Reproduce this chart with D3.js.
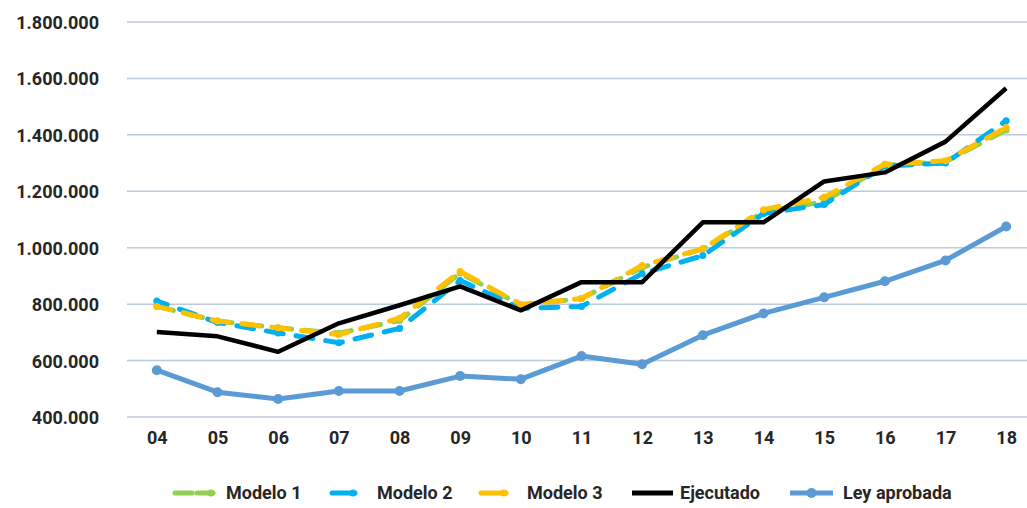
<!DOCTYPE html>
<html>
<head>
<meta charset="utf-8">
<script src="https://cdn.jsdelivr.net/npm/d3@7"></script>
<style>
  html, body { margin: 0; padding: 0; background: #fff; }
  svg { display: block; font-family: Roboto, "Noto Sans", sans-serif; }
</style>
</head>
<body>
<svg id="chart" width="1027" height="508"></svg>
<script>
// Years (two-digit labels) and series values
const years = ["04","05","06","07","08","09","10","11","12","13","14","15","16","17","18"];
const modelo1 = [792000, 740000, 716000, 697000, 742000, 910000, 797000, 820000, 930000, 996000, 1127000, 1163000, 1292000, 1305000, 1417000];
const modelo2 = [811000, 735000, 698000, 663000, 714000, 884000, 785000, 792000, 908000, 972000, 1121000, 1153000, 1290000, 1300000, 1450000];
const modelo3 = [792000, 740000, 716000, 692000, 750000, 916000, 799000, 820000, 937000, 996000, 1135000, 1179000, 1296000, 1308000, 1426000];
const ejecutado = [701000, 686000, 631000, 732000, 796000, 863000, 778000, 878000, 878000, 1090000, 1090000, 1235000, 1267000, 1376000, 1565000];
const leyAprobada = [566000, 488000, 464000, 492000, 492000, 545000, 534000, 616000, 587000, 690000, 767000, 824000, 881000, 955000, 1075000];
const yTicks = [400000, 600000, 800000, 1000000, 1200000, 1400000, 1600000, 1800000];

const series = [
  { name: "Modelo 1", values: modelo1, color: "#92d050", dashed: true, marker: 3.5, offset: 0 },
  { name: "Modelo 2", values: modelo2, color: "#00b0f0", dashed: true, marker: 3.5, offset: 6 },
  { name: "Modelo 3", values: modelo3, color: "#ffc000", dashed: true, marker: 3.5, offset: 3 },
  { name: "Ejecutado", values: ejecutado, color: "#000000", dashed: false, marker: 0 },
  { name: "Ley aprobada", values: leyAprobada, color: "#5b9bd5", dashed: false, marker: 5 }
];

const W = 1027, H = 508;
const svg = d3.select("#chart");

const x = d3.scalePoint().domain(years).range([126.5, 1036.5]).padding(0.5);
const y = d3.scaleLinear().domain([400000, 1800000]).range([417, 22]);

const fmt = v => d3.format(",")(v).replace(/,/g, ".");
const textColor = "#262626";

// Horizontal gridlines
svg.append("g").selectAll("line").data(yTicks).join("line")
  .attr("x1", 127).attr("x2", W)
  .attr("y1", d => y(d)).attr("y2", d => y(d))
  .attr("stroke", "#bccbd9").attr("stroke-width", 1.5);

// Y axis labels
const yAxis = d3.axisLeft(y).tickValues(yTicks).tickFormat(fmt).tickSize(0).tickPadding(0);
svg.append("g").attr("transform", "translate(99,0)").call(yAxis)
  .call(g => g.select(".domain").remove())
  .call(g => g.selectAll("text")
    .attr("fill", textColor).attr("font-size", 18).attr("font-weight", 700)
    .attr("font-family", "Roboto, sans-serif").attr("dy", "0.36em"));

// X axis labels
const xAxis = d3.axisBottom(x).tickSize(0).tickPadding(0);
svg.append("g").attr("transform", "translate(0,430)").call(xAxis)
  .call(g => g.select(".domain").remove())
  .call(g => g.selectAll("text")
    .attr("fill", textColor).attr("font-size", 18).attr("font-weight", 700)
    .attr("font-family", "Roboto, sans-serif").attr("dy", "0.78em"));

// Series lines
const line = d3.line().x((d, i) => x(years[i])).y(d => y(d));
const plot = svg.append("g");
series.forEach(s => {
  const g = plot.append("g");
  g.append("path")
    .attr("d", line(s.values))
    .attr("fill", "none")
    .attr("stroke", s.color)
    .attr("stroke-width", s.name === "Ejecutado" ? 4.5 : 5)
    .attr("stroke-linejoin", "round")
    .attr("stroke-linecap", s.dashed ? "round" : "butt")
    .attr("stroke-dasharray", s.dashed ? "17,13" : null)
    .attr("stroke-dashoffset", s.dashed ? s.offset : null);
  if (s.marker > 0) {
    g.selectAll("circle").data(s.values).join("circle")
      .attr("cx", (d, i) => x(years[i]))
      .attr("cy", d => y(d))
      .attr("r", s.marker)
      .attr("fill", s.color);
  }
});

// Legend
const legendItems = [
  { s: series[0], x0: 175, x1: 213, tx: 226, dash: "17,5" },
  { s: series[1], x0: 332, x1: 355, tx: 377, dash: null },
  { s: series[2], x0: 481, x1: 506, tx: 527, dash: null },
  { s: series[3], x0: 632, x1: 673, tx: 680, dash: null },
  { s: series[4], x0: 790, x1: 833, tx: 843, dash: null }
];
const ly = 493;
const legend = svg.append("g");
legendItems.forEach(it => {
  const g = legend.append("g");
  g.append("line")
    .attr("x1", it.x0).attr("x2", it.x1).attr("y1", ly).attr("y2", ly)
    .attr("stroke", it.s.color)
    .attr("stroke-width", 5)
    .attr("stroke-linecap", it.s.dashed ? "round" : "butt")
    .attr("stroke-dasharray", it.dash);
  if (it.s.marker > 0) {
    g.append("circle")
      .attr("cx", it.s.dashed ? it.x1 - 2 : (it.x0 + it.x1) / 2)
      .attr("cy", ly).attr("r", it.s.marker)
      .attr("fill", it.s.color);
  }
  g.append("text")
    .attr("x", it.tx).attr("y", ly).attr("dy", "0.35em")
    .attr("fill", textColor).attr("font-size", 18).attr("font-weight", 700)
    .attr("font-family", "Roboto, sans-serif")
    .text(it.s.name);
});
</script>
</body>
</html>
